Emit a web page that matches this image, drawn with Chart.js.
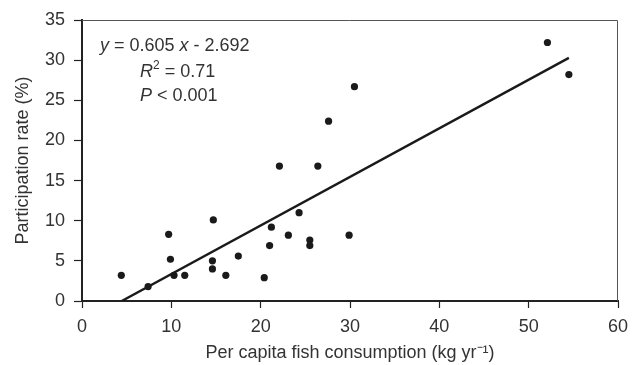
<!DOCTYPE html>
<html>
<head>
<meta charset="utf-8">
<script src="https://cdn.jsdelivr.net/npm/chart.js@4"></script>
<style>
  html, body { margin: 0; padding: 0; background: #fff; }
  #wrap { width: 641px; height: 365px; }
</style>
</head>
<body>
<div id="wrap"><canvas id="myChart" width="641" height="365"></canvas></div>
<script>
// per capita fish consumption (kg/yr) vs participation rate (%)
const fishX = [4.4, 7.4, 9.7, 9.9, 10.3, 11.5, 14.7, 14.6, 14.6, 16.1, 17.5, 20.4, 21.0, 21.2, 23.1, 24.3, 25.5, 25.5, 29.9, 22.1, 26.4, 27.6, 30.5, 52.1, 54.5];
const rateY = [3.2, 1.8, 8.3, 5.2, 3.2, 3.2, 10.1, 5.0, 4.0, 3.2, 5.6, 2.9, 6.9, 9.2, 8.2, 11.0, 7.6, 6.9, 8.2, 16.8, 16.8, 22.4, 26.7, 32.2, 28.2];
const xTicks = [0, 10, 20, 30, 40, 50, 60];
const yTicks = [0, 5, 10, 15, 20, 25, 30, 35];
const slope = 0.605;
const intercept = -2.692;
const fitX = [2.692 / 0.605, 54.5];

const points = fishX.map((x, i) => ({ x: x, y: rateY[i] }));
const fitLine = fitX.map(x => ({ x: x, y: slope * x + intercept }));

const textColor = '#333';
const fontFamily = '"Liberation Sans", Arial, sans-serif';

// equation text in the top left corner, with italic letters and superscript
const annotation = {
  id: 'annotation',
  afterDraw(chart) {
    const ctx = chart.ctx;
    ctx.save();
    ctx.fillStyle = textColor;
    ctx.textBaseline = 'alphabetic';
    function run(parts, x, y) {
      parts.forEach(p => {
        const size = p.sup ? 12 : 18;
        ctx.font = (p.it ? 'italic ' : '') + size + 'px ' + fontFamily;
        ctx.fillText(p.t, x, p.sup ? y - 8 : y);
        x += ctx.measureText(p.t).width;
      });
    }
    run([{ t: 'y', it: true }, { t: ' = 0.605 ' }, { t: 'x', it: true }, { t: ' - 2.692' }], 100, 51);
    run([{ t: 'R', it: true }, { t: '2', sup: true }, { t: ' = 0.71' }], 140, 77);
    run([{ t: 'P', it: true }, { t: ' < 0.001' }], 140, 101);
    ctx.restore();
  }
};

// thin gray frame on top and right
const frame = {
  id: 'frame',
  beforeDatasetsDraw(chart) {
    const { ctx, chartArea: a } = chart;
    ctx.save();
    ctx.strokeStyle = '#555';
    ctx.lineWidth = 1;
    ctx.beginPath();
    ctx.moveTo(a.left, a.top + 0.5);
    ctx.lineTo(a.right - 0.5, a.top + 0.5);
    ctx.lineTo(a.right - 0.5, a.bottom);
    ctx.stroke();
    ctx.restore();
  }
};

const ctx = document.getElementById('myChart').getContext('2d');
const chart = new Chart(ctx, {
  type: 'scatter',
  data: {
    datasets: [
      {
        label: 'Countries',
        data: points,
        backgroundColor: '#1a1a1a',
        borderWidth: 0,
        pointRadius: 3.6
      },
      {
        label: 'Fit',
        type: 'line',
        data: fitLine,
        borderColor: '#1a1a1a',
        borderWidth: 2.4,
        pointRadius: 0,
        fill: false
      }
    ]
  },
  options: {
    responsive: false,
    animation: false,
    layout: { padding: { top: 20, right: 23, left: 0, bottom: 0 } },
    plugins: {
      legend: { display: false },
      tooltip: { enabled: false }
    },
    scales: {
      x: {
        type: 'linear',
        min: 0,
        max: 60,
        afterBuildTicks: s => { s.ticks = xTicks.map(v => ({ value: v })); },
        afterFit: s => { s.height = 64; },
        grid: { drawOnChartArea: false, color: '#222', tickLength: 7, tickWidth: 1.2 },
        border: { color: '#222', width: 2 },
        ticks: { color: textColor, font: { family: fontFamily, size: 18 }, padding: 8, maxRotation: 0 },
        title: {
          display: true,
          text: 'Per capita fish consumption (kg yr\u207B\u00B9)',
          color: textColor,
          font: { family: fontFamily, size: 18 },
          padding: { top: 0, bottom: 1 }
        }
      },
      y: {
        type: 'linear',
        min: 0,
        max: 35,
        afterBuildTicks: s => { s.ticks = yTicks.map(v => ({ value: v })); },
        afterFit: s => { s.width = 82; },
        grid: { drawOnChartArea: false, color: '#222', tickLength: 8, tickWidth: 1.2 },
        border: { color: '#222', width: 2 },
        ticks: { color: textColor, font: { family: fontFamily, size: 18 }, padding: 9 },
        title: {
          display: true,
          text: 'Participation rate (%)',
          color: textColor,
          font: { family: fontFamily, size: 18 },
          padding: { top: 12, bottom: 0 }
        }
      }
    }
  },
  plugins: [frame, annotation]
});
</script>
</body>
</html>
